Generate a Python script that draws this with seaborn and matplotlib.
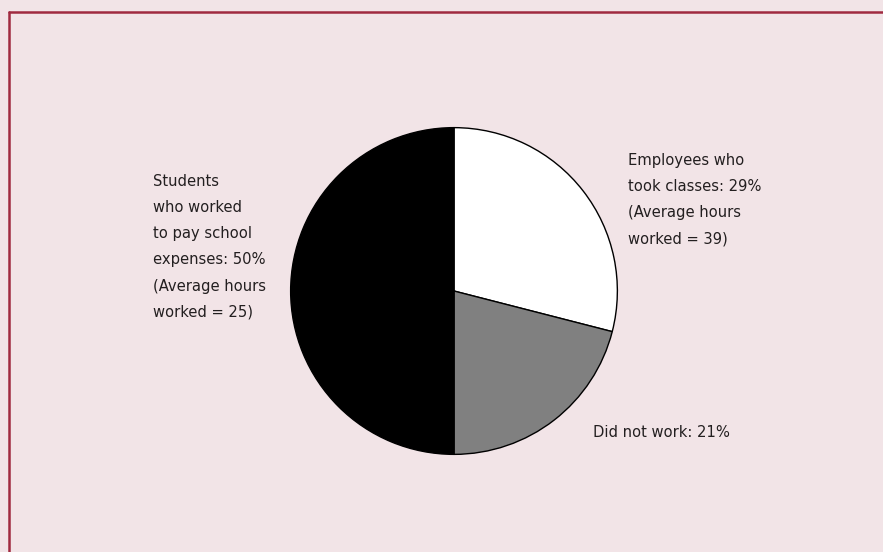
import matplotlib
matplotlib.use("Agg")
import matplotlib.pyplot as plt
from matplotlib.lines import Line2D
import seaborn as sns

# Share of students by work status
categories = ["Employees who took classes", "Did not work", "Students who worked to pay school expenses"]
shares = [29, 21, 50]
avg_hours = [39, None, 25]
colors = ["#ffffff", "#808080", "#000000"]

labels = [
    "Employees who\ntook classes: 29%\n(Average hours\nworked = 39)",
    "Did not work: 21%",
    "Students\nwho worked\nto pay school\nexpenses: 50%\n(Average hours\nworked = 25)",
]

sns.set_style("white")
plt.rcParams["font.family"] = ["DejaVu Sans"]
plt.rcParams["font.stretch"] = "condensed"

W, H = 883, 552
bg = "#f2e4e7"
fig = plt.figure(figsize=(W / 100, H / 100), dpi=100, facecolor=bg)

# Pie axes: centre (454, 291) px, radius 165 px
cx, cy, r = 454, 291, 165
ax = fig.add_axes([(cx - r) / W, (H - cy - r) / H, 2 * r / W, 2 * r / H])
ax.set_facecolor("none")
ax.pie(shares, colors=colors, startangle=90, counterclock=False,
       wedgeprops=dict(edgecolor="black", linewidth=1.0))
ax.set_xlim(-1.01, 1.01)
ax.set_ylim(-1.01, 1.01)
ax.set_aspect("equal")
ax.axis("off")

txt = dict(color="#231f20", fontsize=11.8, fontstretch="condensed",
           linespacing=1.93, va="top", ha="left")
fig.text(628 / W, 1 - 153 / H, labels[0], **txt)
fig.text(593 / W, 1 - 425 / H, labels[1], **txt)
fig.text(153 / W, 1 - 174 / H, labels[2], **txt)

# Frame lines along top and left
fc = "#a02a40"
fig.add_artist(Line2D([8.5 / W, 1.0], [1 - 11.5 / H, 1 - 11.5 / H], color=fc, lw=1.8, transform=fig.transFigure))
fig.add_artist(Line2D([8.5 / W, 8.5 / W], [0, 1 - 11.5 / H], color=fc, lw=1.8, transform=fig.transFigure))

fig.savefig("out.png", dpi=100, facecolor=bg)
